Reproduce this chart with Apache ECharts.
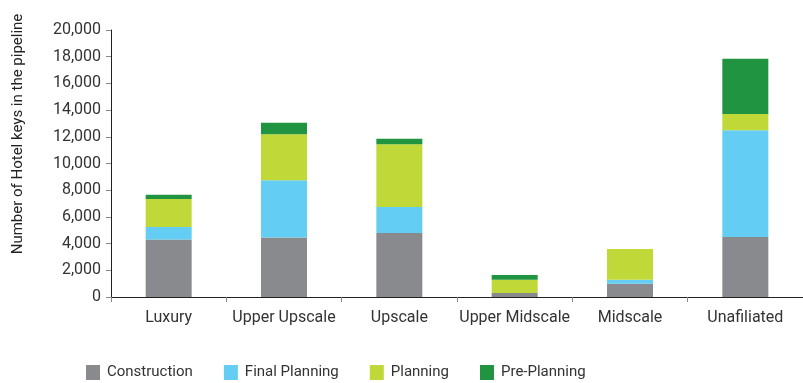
<!DOCTYPE html>
<html>
<head>
<meta charset="utf-8">
<script src="https://cdn.jsdelivr.net/npm/echarts@6/dist/echarts.min.js"></script>
<style>html,body{margin:0;padding:0;background:#fff;}#c{width:803px;height:383px;}</style>
</head>
<body>
<div id="c"></div>
<script>
const categories = ['Luxury', 'Upper Upscale', 'Upscale', 'Upper Midscale', 'Midscale', 'Unafiliated'];
const construction = [4300, 4450, 4800, 300, 1000, 4500];
const finalPlanning = [950, 4300, 1950, 0, 300, 8000];
const planning = [2100, 3450, 4700, 1000, 2300, 1200];
const prePlanning = [300, 850, 400, 350, 0, 4150];
const yTicks = [0, 2000, 4000, 6000, 8000, 10000, 12000, 14000, 16000, 18000, 20000];

const font = 'Roboto, "Noto Sans", sans-serif';
const chart = echarts.init(document.getElementById('c'), null, {renderer: 'canvas'});
function s(name, data, color) {
  return {name, type: 'bar', stack: 'a', data, barWidth: 46, itemStyle: {color}, emphasis: {disabled: true}};
}
chart.setOption({
  animation: false,
  grid: {left: 111, top: 30, width: 695, height: 267, containLabel: false},
  legend: {
    left: 81, top: 360, itemWidth: 14, itemHeight: 15, itemGap: 31, icon: 'rect',
    textStyle: {fontFamily: font, fontSize: 15, color: '#333', padding: [0, 0, 0, 2]},
    data: ['Construction', 'Final Planning', 'Planning', 'Pre-Planning']
  },
  xAxis: {
    type: 'category', data: categories,
    axisLine: {lineStyle: {color: '#222', width: 1}},
    axisTick: {show: true, length: 5, interval: 0, lineStyle: {color: '#888'}},
    axisLabel: {fontFamily: font, fontSize: 16, color: '#333', margin: 13, interval: 0}
  },
  yAxis: {
    type: 'value', min: yTicks[0], max: yTicks[yTicks.length - 1], interval: 2000,
    name: 'Number of Hotel keys in the pipeline', nameLocation: 'middle', nameRotate: 90, nameGap: 85,
    nameTextStyle: {fontFamily: font, fontSize: 15, color: '#222', padding: [0, 0, 0, 59]},
    axisLine: {show: true, lineStyle: {color: '#222', width: 1}},
    axisTick: {show: true, length: 5, lineStyle: {color: '#888'}},
    splitLine: {show: false},
    axisLabel: {fontFamily: font, fontSize: 16, color: '#333', margin: 10,
      formatter: v => v.toLocaleString('en-US')}
  },
  series: [
    s('Construction', construction, '#898a8e'),
    s('Final Planning', finalPlanning, '#63cdf3'),
    s('Planning', planning, '#c0d838'),
    s('Pre-Planning', prePlanning, '#219442')
  ]
});
</script>
</body>
</html>
